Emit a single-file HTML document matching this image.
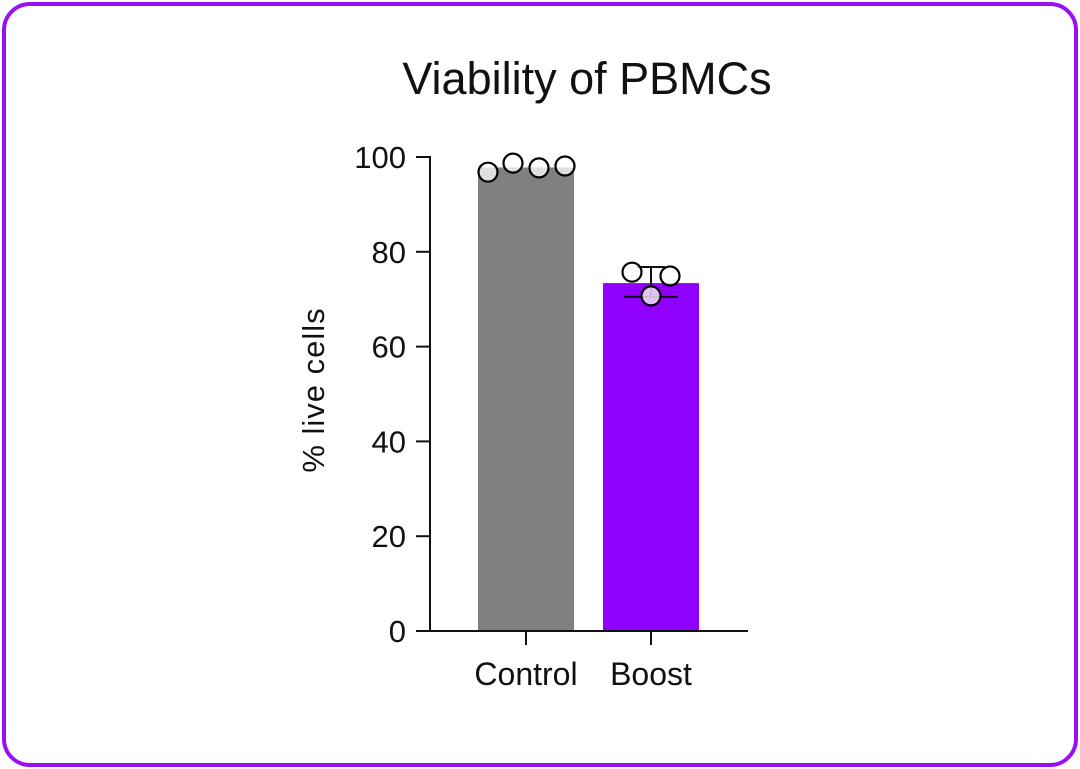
<!DOCTYPE html>
<html><head><meta charset="utf-8"><style>
body{margin:0;width:1080px;height:769px;background:#fff;overflow:hidden}
.frame{position:absolute;left:2px;top:2px;width:1068px;height:757px;border:4px solid #9a10f5;border-radius:28px;box-sizing:content-box}
svg{position:absolute;left:0;top:0}
text{font-family:"Liberation Sans",Arial,sans-serif;fill:#111}
</style></head><body>
<div class="frame"></div>
<svg width="1080" height="769">
<text x="587" y="94" font-size="45" text-anchor="middle">Viability of PBMCs</text>
<text transform="translate(324,390) rotate(-90)" font-size="31" letter-spacing="1" text-anchor="middle">% live cells</text>
<g id="g"></g>
</svg>
<script>
const categories=["Control","Boost"];
const means=[97.8,73.4];
const errLow=[null,70.5];
const errHigh=[null,76.8];
const points=[[96.8,98.7,97.7,98.1],[75.7,74.9,70.7]];
const pointOffsets=[[-38,-13,13,39],[-19,19,0]];
const colors=["#808080","#8f00ff"];
const yTicks=[0,20,40,60,80,100];
const y=v=>631-v*4.74;
const xc=i=>526+i*125;
const NS="http://www.w3.org/2000/svg";
const g=document.getElementById('g');
function mk(t,a,name){const e=document.createElementNS(NS,t);for(const k in a)e.setAttribute(k,a[k]);


g.appendChild(e);return e;}
categories.forEach((c,i)=>{
 mk('rect',{x:xc(i)-48,y:y(means[i]),width:96,height:y(0)-y(means[i]),fill:colors[i]},'bar-'+c.toLowerCase());
 const t=mk('text',{x:xc(i),y:685,'font-size':32,'text-anchor':'middle'},'x-label-'+c.toLowerCase());t.textContent=c;
 mk('line',{x1:xc(i),x2:xc(i),y1:631,y2:645,stroke:'#111','stroke-width':2},'x-tick');
 if(errLow[i]!=null){
  mk('line',{x1:xc(i),x2:xc(i),y1:y(errHigh[i]),y2:y(errLow[i]),stroke:'#111','stroke-width':2},'error-bar');
  mk('line',{x1:xc(i)-14,x2:xc(i)+14,y1:y(errHigh[i]),y2:y(errHigh[i]),stroke:'#111','stroke-width':2},'error-cap-top');
  mk('line',{x1:xc(i)-27,x2:xc(i)+27,y1:y(errLow[i]),y2:y(errLow[i]),stroke:'#111','stroke-width':2},'error-cap-bottom');
 }
 points[i].forEach((v,j)=>mk('circle',{cx:xc(i)+pointOffsets[i][j],cy:y(v),r:9.5,fill:'rgba(255,255,255,0.75)',stroke:'#000','stroke-width':2.2},'data-point'));
});
mk('line',{x1:430,x2:430,y1:y(100)-1,y2:632,stroke:'#111','stroke-width':2},'y-axis');
mk('line',{x1:429,x2:748,y1:631,y2:631,stroke:'#111','stroke-width':2},'x-axis');
yTicks.forEach(v=>{
 mk('line',{x1:416,x2:430,y1:y(v),y2:y(v),stroke:'#111','stroke-width':2},'y-tick');
 const t=mk('text',{x:406,y:y(v)+11,'font-size':31,'text-anchor':'end'},'y-tick-label');t.textContent=v;
});
</script>
</body></html>
